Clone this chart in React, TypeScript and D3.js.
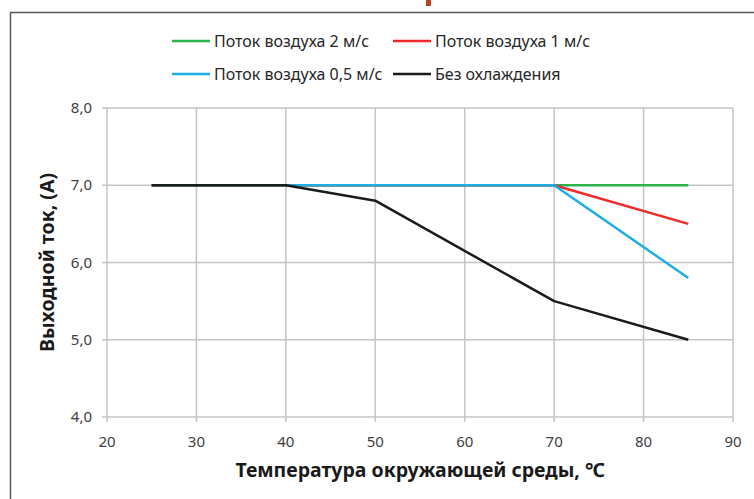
import React from "react";
import * as d3 from "d3";

const xTicks = [20, 30, 40, 50, 60, 70, 80, 90];
const yTicks = [4, 5, 6, 7, 8];
const temps = [25, 40, 50, 70, 85];
const air2 = [7, 7, 7, 7, 7];
const air1 = [7, 7, 7, 7, 6.5];
const air05 = [7, 7, 7, 7, 5.8];
const noCool = [7, 7, 6.8, 5.5, 5.0];

const seriesNames = ["Поток воздуха 2 м/с", "Поток воздуха 1 м/с", "Поток воздуха 0,5 м/с", "Без охлаждения"];
const seriesColors = ["#2cb34c", "#ee2a2a", "#1eaee3", "#1b1b1b"];
const seriesValues = [air2, air1, air05, noCool];

export default function App() {
  const W = 754, H = 499;
  const x = d3.scaleLinear().domain([20, 90]).range([107, 733]);
  const y = d3.scaleLinear().domain([4, 8]).range([417, 108]);
  const line = d3.line<[number, number]>().x(d => x(d[0])).y(d => y(d[1]));
  const font = "'Noto Sans', sans-serif";
  const legendPos = [
    { lx: 172, ly: 41 },
    { lx: 393, ly: 41 },
    { lx: 172, ly: 74 },
    { lx: 393, ly: 74 },
  ];
  return (
    <svg width={W} height={H} style={{ position: "absolute", left: 0, top: 0, background: "#fff" }} fontFamily={font}>
      <rect x={0} y={0} width={W} height={H} fill="#fff" />
      <rect x={426} y={0} width={5} height={6} fill="#b5452a" />
      <path d={`M10.5,${H} L10.5,12.5 L${W},12.5`} fill="none" stroke="#595959" strokeWidth={1.5} />
      {xTicks.map(t => (
        <g key={"x" + t}>
          <line x1={x(t)} x2={x(t)} y1={y(8)} y2={y(4) + 5} stroke="#c4c4c4" strokeWidth={1.5} />
          <text x={x(t)} y={447} textAnchor="middle" fontSize={15} fill="#404040">{t}</text>
        </g>
      ))}
      {yTicks.map(t => (
        <g key={"y" + t}>
          <line x1={x(20) - 5} x2={x(90)} y1={y(t)} y2={y(t)} stroke="#c4c4c4" strokeWidth={1.5} />
          <text x={92} y={y(t) + 5} textAnchor="end" fontSize={15} fill="#404040">{d3.format(".1f")(t).replace(".", ",")}</text>
        </g>
      ))}
      {seriesValues.map((vals, i) => (
        <path key={"s" + i} d={line(temps.map((t, j) => [t, vals[j]] as [number, number])) || ""} fill="none" stroke={seriesColors[i]} strokeWidth={2.5} strokeLinejoin="round" />
      ))}
      {seriesNames.map((n, i) => (
        <g key={"l" + i}>
          <line x1={legendPos[i].lx} x2={legendPos[i].lx + 38} y1={legendPos[i].ly} y2={legendPos[i].ly} stroke={seriesColors[i]} strokeWidth={2.5} />
          <text x={legendPos[i].lx + 42} y={legendPos[i].ly + 5.5} fontSize={16} fill="#262626">{n}</text>
        </g>
      ))}
      <text transform={`translate(54,${(y(4) + y(8)) / 2}) rotate(-90)`} textAnchor="middle" fontSize={19.5} fontWeight="bold" fill="#1a1a1a">Выходной ток, (А)</text>
      <text x={420} y={477} textAnchor="middle" fontSize={19.5} fontWeight="bold" fill="#1a1a1a">Температура окружающей среды, ℃</text>
    </svg>
  );
}
